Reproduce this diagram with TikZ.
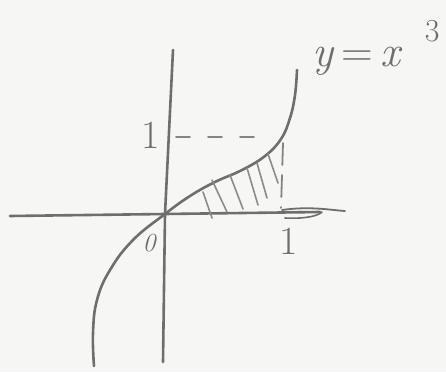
\documentclass[tikz,border=0pt]{standalone}
\usepackage{tikz}
\usetikzlibrary{calc}
\definecolor{pencil}{HTML}{6E6E6E}
\definecolor{paper}{HTML}{F6F6F4}

\begin{document}
\begin{tikzpicture}[
      x=1pt, y=-1pt,
      pen/.style={draw=pencil, line width=2.6pt, line cap=round, line join=round},
      hatch/.style={draw=pencil!80, line width=1.6pt, line cap=round},
      guide/.style={draw=pencil!85, line width=1.8pt, line cap=round,
                    dash pattern=on 14pt off 18pt},
      lbl/.style={color=pencil, font=\fontsize{40}{46}\selectfont, inner sep=0pt},
    ]

    % ---------- paper ----------
    \fill[paper] (0,0) rectangle (446,372);
    \useasboundingbox (0,0) rectangle (446,372);

    % ---------- axes ----------
    \coordinate (O) at (165,214);
    \draw[pen] (10,216) -- (O) -- (320,212);
    \draw[pen, line width=1.8pt] (282,210) .. controls (310,206) and (330,210) .. (345,211);
    \draw[pen, line width=1.6pt] (285,218) .. controls (305,219) and (318,216) .. (322,212);
    \draw[pen] (173,50) -- (O) -- (163,362);

    % ---------- curve y = x^3 ----------
    \draw[pen] plot[smooth, tension=0.7] coordinates {
      (94,366) (93,333) (97,300) (110,270) (133,240) (165,214)
      (190,196) (215,182) (242,170) (265,156) (281,139) (290,118) (295,95) (297,70)};

    % ---------- guides ----------
    \draw[guide] (176,137) -- (266,137);
    \draw[guide, dash pattern=on 22pt off 10pt] (283,143) -- (281,208);

    % ---------- shading ----------
    \draw[hatch] (203,192) -- (212,218);
    \draw[hatch] (212,180) -- (227,212);
    \draw[hatch] (230,175) -- (243,209);
    \draw[hatch] (247,168) -- (258,205);
    \draw[hatch] (257,163) -- (267,198);
    \draw[hatch] (268,154) -- (278,183);

    % ---------- labels ----------
    \node[lbl] (one-y) at (151,135) {1};
    \node[lbl] (one-x) at (289,241) {1};
    \node[lbl, font=\fontsize{26}{30}\selectfont\itshape] (zero) at (149,243) {0};
    \node[lbl, anchor=base west, font=\fontsize{44}{50}\selectfont]
      (eq) at (312,66) {\textit{y}\,=\,\textit{x}\hspace{0.5em}\raisebox{0.55em}{\fontsize{32}{36}\selectfont 3}};

  \end{tikzpicture}
\end{document}
